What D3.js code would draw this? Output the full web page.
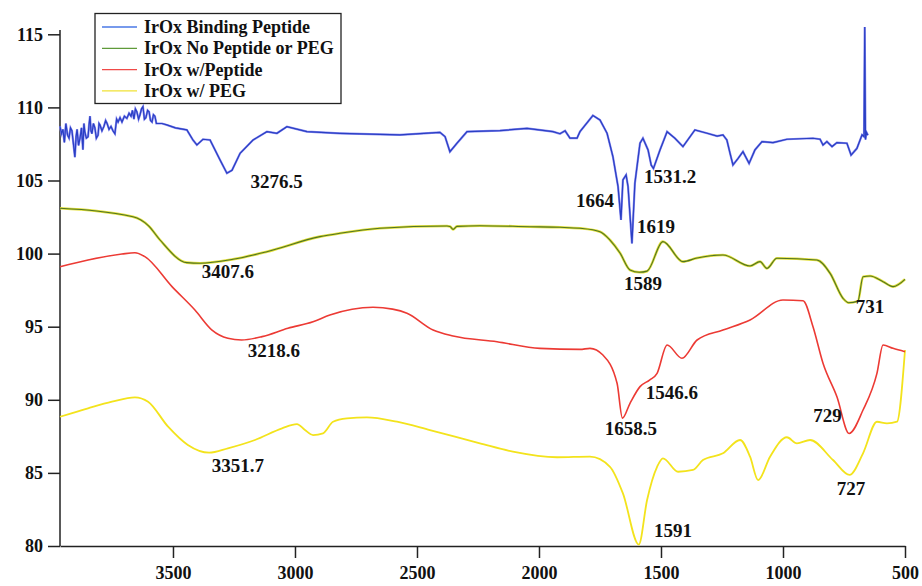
<!DOCTYPE html>
<html>
<head>
<meta charset="utf-8">
<script src="https://cdn.jsdelivr.net/npm/d3@7"></script>
<style>
  html, body { margin: 0; padding: 0; background: #fff; }
  svg { display: block; }
  text { font-family: "Liberation Serif", "Times New Roman", serif; font-weight: bold; fill: #111; }
</style>
</head>
<body>
<svg id="chart" width="922" height="586"></svg>
<script>
// FTIR spectra: [wavenumber (cm-1), transmittance (%)]
const bindingPeptide = [
  [3963,108.7],[3957,108.2],[3951,108.5],[3945,107.6],[3939,108.9],[3932,108.1],[3926,107.9],
  [3920,108.6],[3914,108.4],[3908,107.5],[3902,106.6],[3897,108.0],[3893,108.5],[3887,107.4],
  [3881,107.9],[3875,108.6],[3869,107.1],[3865,108.9],[3861,108.3],[3855,107.9],[3848,108.0],
  [3844,108.8],[3840,109.4],[3836,108.4],[3832,108.2],[3826,108.9],[3820,108.6],[3814,107.9],
  [3807,108.1],[3803,108.9],[3799,108.8],[3791,108.4],[3783,108.7],[3776,109.1],[3770,108.9],
  [3762,108.5],[3754,108.7],[3746,108.4],[3738,108.2],[3731,109.2],[3725,109.0],[3717,109.3],
  [3709,109.0],[3699,109.4],[3689,109.25],[3680,109.6],[3672,109.4],[3666,109.8],[3660,109.2],
  [3654,109.9],[3648,109.7],[3641,109.2],[3635,109.5],[3629,109.9],[3623,110.05],[3617,109.2],
  [3611,109.3],[3604,109.8],[3598,109.7],[3592,109.1],[3586,109.0],[3580,109.5],[3574,109.4],
  [3568,108.9],[3562,108.9],[3545,108.9],[3525,108.8],[3490,108.6],[3443,108.46],
  [3418,107.77],[3402,107.43],[3377,107.82],[3348,107.77],[3307,106.4],[3279,105.5],[3258,105.7],
  [3225,106.86],[3172,107.77],[3115,108.34],[3074,108.23],[3033,108.68],[2951,108.34],[2816,108.23],
  [2570,108.12],[2406,108.29],[2385,108.0],[2365,106.97],[2336,107.55],[2295,108.34],[2160,108.41],
  [2049,108.57],[1943,108.34],[1914,108.2],[1893,108.4],[1873,107.9],[1844,107.9],[1832,108.34],
  [1779,109.45],[1750,109.14],[1721,108.23],[1697,106.63],[1676,104.58],[1664,102.3],[1656,105.04],
  [1643,105.38],[1635,104.58],[1619,100.7],[1607,104.81],[1586,107.55],[1574,107.89],[1553,107.09],
  [1540,106.05],[1531,105.82],[1504,107.09],[1475,108.34],[1443,107.89],[1410,107.32],[1361,108.46],
  [1311,108.23],[1270,108.04],[1246,108.12],[1230,107.77],[1217,106.86],[1205,106.06],[1184,106.51],
  [1164,106.97],[1139,106.17],[1115,107.09],[1086,107.66],[1041,107.59],[984,107.82],[877,107.89],
  [848,107.82],[836,107.43],[820,107.66],[799,107.32],[779,107.59],[738,107.55],[721,106.74],
  [697,107.2],[676,108.12],[668,108.0],[665,115.5],[662,107.8],[658,108.3],[652,108.1]
];

const noPeptideOrPEG = [
  [3963,103.1],[3664,102.52],[3600,101.9],[3553,100.93],[3443,99.38],[3389,99.34],[3254,99.61],
  [3115,100.13],[2898,101.16],[2816,101.39],[2652,101.73],[2377,101.89],[2365,101.86],[2352,101.66],
  [2336,101.86],[2242,101.91],[2037,101.84],[1914,101.8],[1832,101.73],[1750,101.5],[1709,100.93],
  [1668,100.04],[1627,98.88],[1589,98.72],[1557,98.8],[1492,100.82],[1410,99.45],[1352,99.7],
  [1246,99.9],[1135,99.15],[1094,99.45],[1066,98.99],[1025,99.68],[861,99.56],[807,98.65],
  [754,96.94],[731,96.64],[693,96.75],[672,98.42],[643,98.47],[590,98.08],[549,97.74],[500,98.24]
];

const withPeptide = [
  [3963,99.1],[3848,99.56],[3709,99.97],[3656,100.06],[3615,99.79],[3504,97.74],[3410,96.14],
  [3340,94.77],[3275,94.21],[3219,94.09],[3135,94.32],[3029,94.89],[2926,95.34],[2857,95.8],
  [2680,96.33],[2600,96.2],[2541,95.92],[2434,94.77],[2352,94.36],[2172,93.97],[1996,93.52],[1832,93.45],
  [1791,93.52],[1738,93.06],[1680,91.13],[1658,88.75],[1627,89.76],[1586,90.9],[1547,91.35],
  [1516,91.81],[1475,93.75],[1414,92.84],[1352,94.09],[1246,94.77],[1135,95.46],[1000,96.83],
  [918,96.78],[877,95.0],[836,92.5],[779,90.21],[729,87.7],[672,89.3],[615,91.81],[590,93.75],
  [549,93.52],[500,93.29]
];

const withPEG = [
  [3963,88.84],[3848,89.42],[3750,89.87],[3656,90.17],[3602,89.87],[3520,88.16],[3439,86.91],
  [3352,86.38],[3275,86.68],[3164,87.25],[3053,88.05],[2992,88.34],[2959,87.93],[2926,87.59],
  [2885,87.71],[2844,88.5],[2787,88.73],[2705,88.8],[2582,88.5],[2447,87.93],[2242,87.02],
  [2107,86.45],[1926,86.07],[1791,86.11],[1709,85.42],[1656,83.6],[1591,80.1],[1557,83.15],
  [1516,85.42],[1492,86.0],[1430,85.08],[1369,85.2],[1328,85.88],[1246,86.34],[1176,87.25],
  [1135,86.11],[1102,84.51],[1053,86.11],[984,87.44],[943,87.02],[889,87.25],[795,85.88],
  [727,84.86],[672,86.34],[615,88.5],[574,88.39],[533,88.5],[500,93.41]
];

const seriesNames = ["IrOx Binding Peptide", "IrOx No Peptide or PEG", "IrOx w/Peptide", "IrOx w/ PEG"];

const xTicks = [3500, 3000, 2500, 2000, 1500, 1000, 500];
const yTicks = [80, 85, 90, 95, 100, 105, 110, 115];

// peak labels: text and its anchor in data units (wavenumber, transmittance)
const peakLabels = [
  ["3276.5", 3075, 104.49], ["1664", 1770, 103.19], ["1619", 1520, 101.41], ["1531.2", 1463, 104.83],
  ["3407.6", 3275, 98.33], ["1589", 1574, 97.51], ["731", 643, 95.94],
  ["3218.6", 3086, 92.93], ["1546.6", 1455, 90.05], ["1658.5", 1623, 87.59], ["729", 818, 88.48],
  ["3351.7", 3234, 85.06], ["727", 721, 83.49], ["1591", 1451, 80.62]
];

const svg = d3.select("#chart");
const x = d3.scaleLinear().domain([3963, 500]).range([60, 905]);
const y = d3.scaleLinear().domain([80, 115]).range([546, 34.3]);

// axes
const xAxis = svg.append("g").attr("transform", "translate(0,546)")
  .call(d3.axisBottom(x).tickValues(xTicks).tickFormat(d3.format("d"))
    .tickSize(12).tickSizeOuter(0).tickPadding(6));
const yAxis = svg.append("g").attr("transform", "translate(60,0)")
  .call(d3.axisLeft(y).tickValues(yTicks).tickFormat(d3.format("d"))
    .tickSize(12).tickSizeOuter(0).tickPadding(5));
[xAxis, yAxis].forEach(g => {
  g.selectAll(".domain").attr("stroke", "#222").attr("stroke-width", 1.5);
  g.selectAll(".tick line").attr("stroke", "#222").attr("stroke-width", 1.5);
  g.selectAll(".tick text").attr("font-size", 18).attr("fill", "#111")
    .attr("font-family", "Liberation Serif, serif").attr("font-weight", "bold");
});
yAxis.select(".domain").attr("d", `M0,${y(80)}V30`);
xAxis.selectAll(".tick text").attr("dy", "0.85em");

const lineSmooth = d3.line().x(d => x(d[0])).y(d => y(d[1])).curve(d3.curveMonotoneX);
const lineRaw = d3.line().x(d => x(d[0])).y(d => y(d[1]));

// yellow (PEG)
svg.append("path").datum(withPEG).attr("d", lineSmooth)
  .attr("fill", "none").attr("stroke", "#f3e31c").attr("stroke-width", 1.8);
// red (peptide)
svg.append("path").datum(withPeptide).attr("d", lineSmooth)
  .attr("fill", "none").attr("stroke", "#ec3a34").attr("stroke-width", 1.6);
// green with yellow halo
svg.append("path").datum(noPeptideOrPEG).attr("d", lineSmooth)
  .attr("fill", "none").attr("stroke", "#e4e03a").attr("stroke-width", 2.6);
svg.append("path").datum(noPeptideOrPEG).attr("d", lineSmooth)
  .attr("fill", "none").attr("stroke", "#4f7424").attr("stroke-width", 1.1);
// blue (binding peptide)
svg.append("path").datum(bindingPeptide).attr("d", lineRaw)
  .attr("fill", "none").attr("stroke", "#8a8cf0").attr("stroke-width", 2.2);
svg.append("path").datum(bindingPeptide).attr("d", lineRaw)
  .attr("fill", "none").attr("stroke", "#2a3fc4").attr("stroke-width", 1.2);

// peak labels
svg.append("g").selectAll("text").data(peakLabels).join("text")
  .attr("x", d => x(d[1])).attr("y", d => y(d[2]))
  .attr("text-anchor", "middle").attr("font-size", 19).text(d => d[0]);

// legend
const legendColors = ["#4a78e6", "#5f9a3a", "#f04a48", "#f0e236"];
const legend = svg.append("g");
legend.append("rect").attr("x", 95).attr("y", 13.5).attr("width", 246).attr("height", 90)
  .attr("fill", "#fff").attr("stroke", "#222").attr("stroke-width", 1.3);
const rows = legend.selectAll("g.row").data(seriesNames).join("g").attr("class", "row")
  .attr("transform", (d, i) => `translate(0,${27 + i * 21.3})`);
rows.append("line").attr("x1", 102).attr("x2", 137).attr("y1", 0).attr("y2", 0)
  .attr("stroke", (d, i) => legendColors[i]).attr("stroke-width", 1.3);
rows.append("text").attr("x", 144).attr("y", 0).attr("dy", "0.33em")
  .attr("font-size", 18).text(d => d);
</script>
</body>
</html>
